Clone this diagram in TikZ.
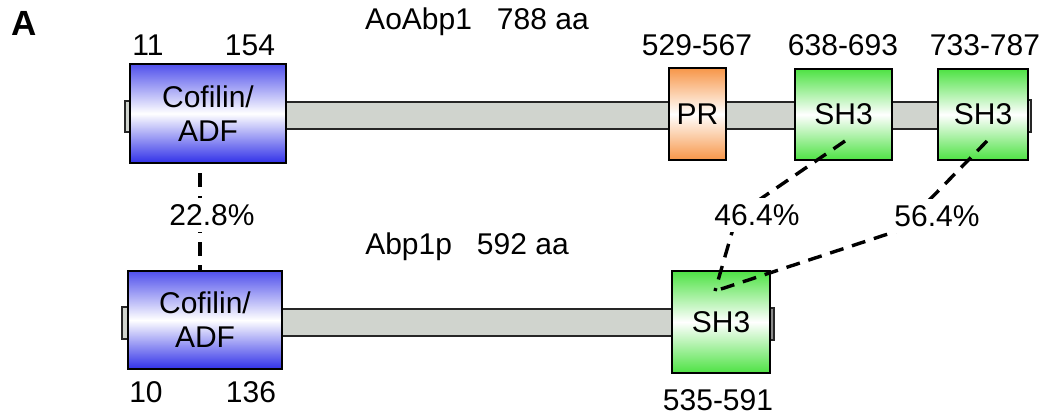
\documentclass[tikz,border=0pt]{standalone}
\usepackage{fontspec}
\setmainfont{Liberation Sans}
\definecolor{barfill}{RGB}{208,212,206}
\definecolor{adfT}{RGB}{80,80,236}
\definecolor{adfB}{RGB}{48,48,232}
\definecolor{prC}{RGB}{247,150,72}
\definecolor{shC}{RGB}{78,226,68}
\tikzset{
  lbl/.style={font=\fontsize{30}{34}\selectfont, inner sep=0pt},
  pct/.style={font=\fontsize{30}{34}\selectfont, fill=white, inner xsep=3pt, inner ysep=6pt},
  bar/.style={draw=black!85, line width=1.2pt, fill=barfill, inner sep=0pt, outer sep=0pt},
  dom/.style={draw=black, line width=1.7pt, inner sep=0pt, outer sep=0pt, align=center,
    font=\fontsize{30}{34}\selectfont},
  adf/.style={dom, top color=adfT, bottom color=adfB, middle color=white},
  prbox/.style={dom, top color=prC, bottom color=prC, middle color=white},
  shbox/.style={dom, top color=shC, bottom color=shC, middle color=white},
  link/.style={line width=3.4pt, dash pattern=on 14pt off 9pt}
}
\begin{document}
\begin{tikzpicture}[x=1pt,y=-1pt]
\useasboundingbox (0,0) rectangle (1043,416);

% panel letter and protein titles
\node[font=\fontsize{35}{40}\selectfont\bfseries, inner sep=0pt] (panel) at (24,23) {A};
\node[lbl] (t1) at (477,22) {AoAbp1\ \ \ 788 aa};
\node[lbl] (t2) at (467,247) {Abp1p\ \ \ 592 aa};

% AoAbp1 backbone
\node[bar, minimum width=906pt, minimum height=27pt] (bar1) at (578,115.5) {};
\node[bar, minimum width=6pt, minimum height=31pt] (s1l) at (128,116.5) {};
\node[bar, minimum width=4pt, minimum height=32pt] (s1r) at (1029,116) {};

% Abp1p backbone
\node[bar, minimum width=652pt, minimum height=27pt] (bar2) at (448,322.5) {};
\node[bar, minimum width=7pt, minimum height=32pt] (s2l) at (125.5,323) {};
\node[bar, fill=black!45, minimum width=5pt, minimum height=32pt] (s2r) at (771.5,324) {};

% AoAbp1 domains
\node[adf, minimum width=156pt, minimum height=99pt] (cof1) at (208,113.5) {Cofilin/\\ADF};
\node[prbox, minimum width=57pt, minimum height=92pt] (pr) at (697.5,114) {PR};
\node[shbox, minimum width=97pt, minimum height=91pt] (sh3a) at (843.5,114.5) {SH3};
\node[shbox, minimum width=90pt, minimum height=91pt] (sh3b) at (983,114.5) {SH3};

% Abp1p domains
\node[adf, minimum width=154pt, minimum height=98pt] (cof2) at (205,320) {Cofilin/\\ADF};
\node[shbox, minimum width=98pt, minimum height=102pt] (sh3c) at (721,322) {SH3};

% residue ranges
\node[lbl] (n11) at (148,45) {11};
\node[lbl] (n154) at (250,45) {154};
\node[lbl] (npr) at (697,45) {529-567};
\node[lbl] (nsa) at (843,45) {638-693};
\node[lbl] (nsb) at (985,45) {733-787};
\node[lbl] (n10) at (146,392) {10};
\node[lbl] (n136) at (251,392) {136};
\node[lbl] (nsc) at (718,400) {535-591};

% identity links
\coordinate (d0) at (200,173);
\coordinate (d1) at (200,271);
\coordinate (e0) at (845,141);
\coordinate (e1) at (737,215);
\coordinate (f0) at (987,141);
\coordinate (f1) at (900,230);
\coordinate (hit) at (715,291);
\draw[link] (d0) -- (d1);
\draw[link] (e0) -- (e1) -- (hit);
\draw[link] (f0) -- (f1) -- (hit);

\node[pct] (p1) at (212,215) {22.8\%};
\node[pct] (p2) at (757,215) {46.4\%};
\node[pct] (p3) at (937,216) {56.4\%};
\end{tikzpicture}
\end{document}
